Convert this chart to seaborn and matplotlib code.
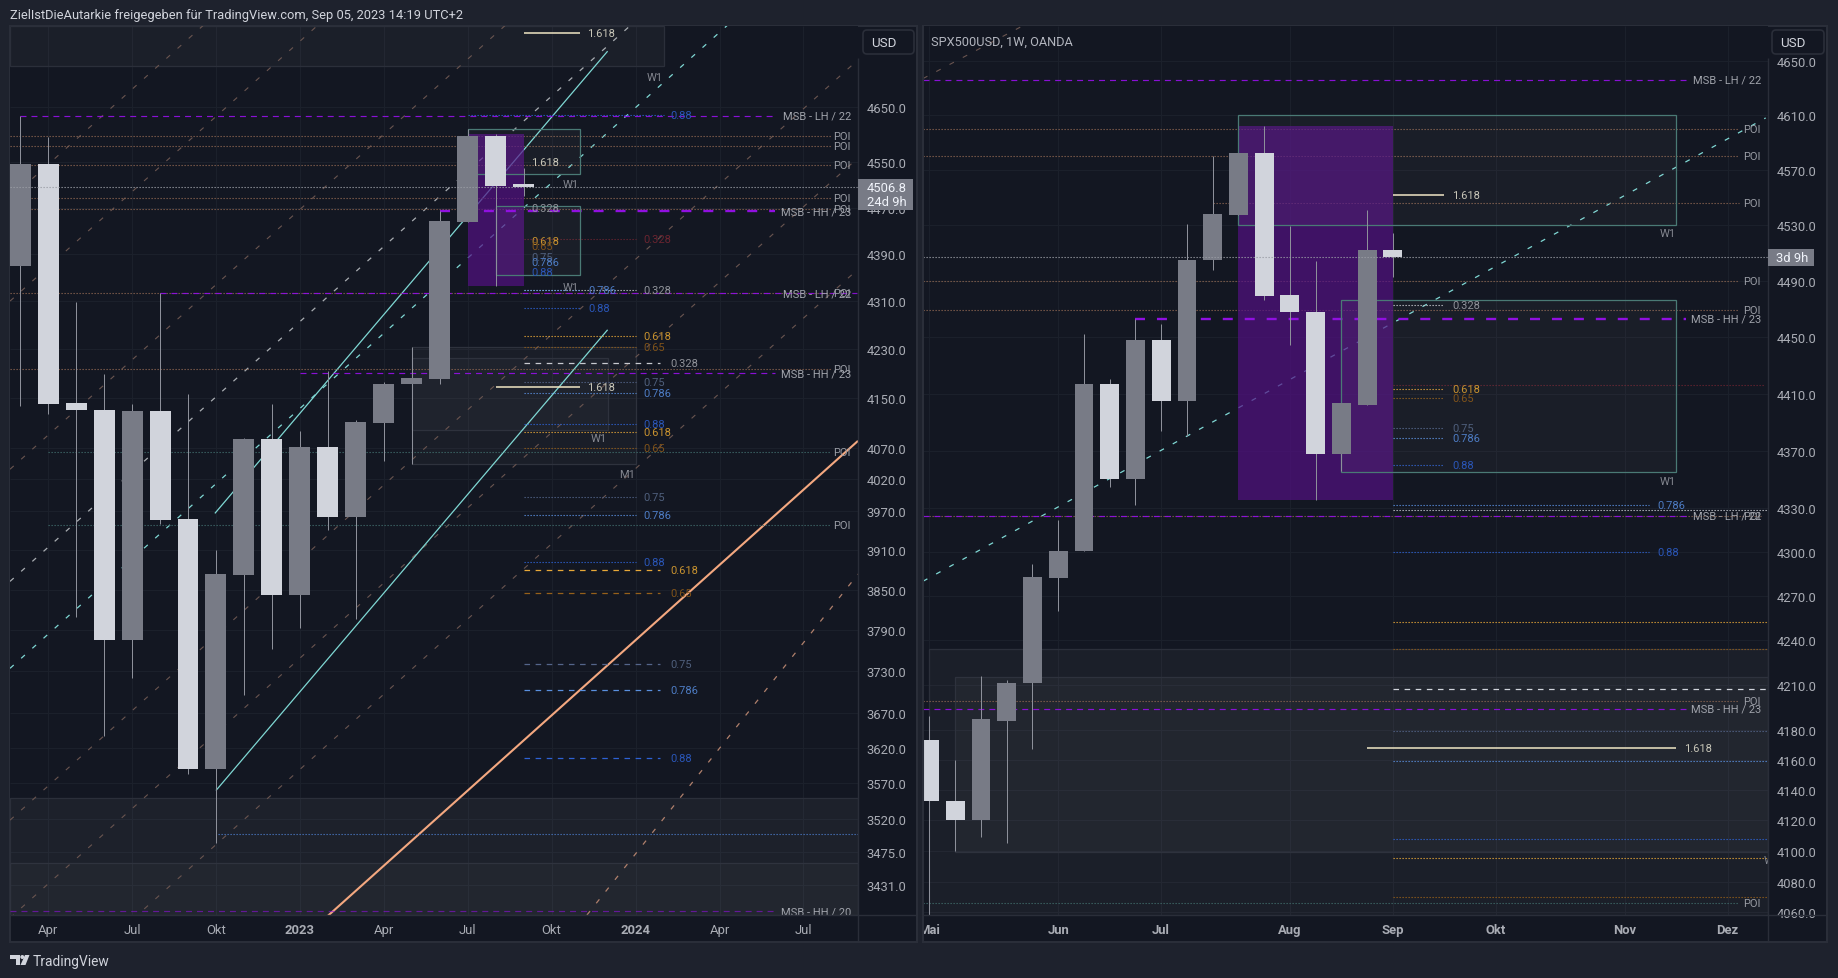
import matplotlib as mpl
mpl.use("Agg")
import matplotlib.pyplot as plt
from matplotlib.patches import Rectangle, FancyBboxPatch, Polygon, Circle
import seaborn as sns

# ------------------------------------------------------------------------------ #
# data
# ------------------------------------------------------------------------------ #

# left pane, monthly candles from mar 2022
l_open = [4370, 4547, 4142, 4130, 3775, 4129, 3958, 3590, 3873, 4084, 3843, 4071, 3961, 4110, 4172, 4181, 4445, 4597, 4512]
l_close = [4547, 4141, 4130, 3775, 4129, 3957, 3590, 3874, 4084, 3843, 4071, 3961, 4111, 4173, 4182, 4447, 4597, 4508, 4506.8]
l_high = [4634, 4596, 4309, 4189, 4140, 4323, 4156, 3911, 4085, 4140, 4096, 4194, 4114, 4176, 4233, 4464, 4610, 4600, 4540]
l_low = [4137, 4124, 3810, 3636, 3720, 3951, 3583, 3488, 3695, 3762, 3793, 3942, 3806, 4049, 4044, 4172, 4445, 4336, 4491]

l_ticks = [4650, 4550, 4470, 4390, 4310, 4230, 4150, 4070, 4020, 3970, 3910, 3850, 3790, 3730, 3670, 3620, 3570, 3520, 3475, 3431]
l_xticks = [1, 4, 7, 10, 13, 16, 19, 22, 25, 28]
l_xlabels = ["Apr", "Jul", "Okt", "2023", "Apr", "Jul", "Okt", "2024", "Apr", "Jul"]

l_poi = [4598, 4579, 4545, 4488, 4468, 4323, 4198]
l_poi_teal = [4064, 3949]

# level, first candle index
l_msb = [4634, 4464, 4323, 4190, 3396]
l_msb_start = [0, 15, 5, 10, -0.36]
l_msb_name = ["MSB - LH / 22", "MSB - HH / 23", "MSB - LH / 22", "MSB - HH / 23", "MSB - HH / 20"]

l_dot_price = [4328, 4251, 4233, 4176, 4157.5, 4107.5, 4095, 4069, 3992, 3964, 3893]
l_dot_name = ["0.328", "0.618", "0.65", "0.75", "0.786", "0.88", "0.618", "0.65", "0.75", "0.786", "0.88"]
l_short_price = [4329, 4298]
l_short_name = ["0.786", "0.88"]
l_dash_price = [4206.5, 3880, 3845, 3740, 3702, 3606]
l_dash_name = ["0.328", "0.618", "0.65", "0.75", "0.786", "0.88"]
l_tag_price = [4550, 4470, 4412, 4404, 4385, 4377, 4359]
l_tag_name = ["1.618", "0.328", "0.618", "0.65", "0.75", "0.786", "0.88"]

# diagonals as (x0, price0, x1, price1)
l_brown = [
    (-0.363, 4486, 29.95, 6037),
    (-0.363, 4310, 29.95, 5800),
    (-0.363, 4036, 29.95, 5431),
    (-0.363, 3519, 29.95, 4736),
    (-0.363, 3387, 29.95, 4558),
    (-0.363, 3243, 29.95, 4364),
]
l_white_diag = (-0.363, 3863, 29.95, 5198)
l_teal_diag = (-0.363, 3734, 29.95, 5025)
l_teal_solid = [(6.96, 3967, 21, 4752), (7, 3560, 21, 4262)]
l_orange_solid = (-0.363, 3033, 29.95, 4081)
l_orange_dash = (20.26, 3391, 29.95, 3874)

# right pane, weekly candles
r_open = [4173, 4133, 4120, 4186, 4211, 4282, 4301, 4417, 4350, 4448, 4405, 4505, 4537, 4582, 4480, 4468, 4368, 4402, 4512]
r_close = [4133, 4120, 4187, 4211, 4283, 4301, 4417, 4350, 4448, 4405, 4505, 4538, 4582, 4479, 4468, 4368, 4403, 4512, 4506.8]
r_high = [4189, 4160, 4216, 4213, 4292, 4322, 4452, 4420, 4463, 4459, 4531, 4580, 4582, 4602, 4529, 4504, 4403, 4541, 4524]
r_low = [4050, 4100, 4109, 4105, 4167, 4260, 4301, 4345, 4332, 4384, 4380, 4498, 4537, 4476, 4444, 4336, 4356, 4402, 4493]

r_ticks = [4650, 4610, 4570, 4530, 4490, 4450, 4410, 4370, 4330, 4300, 4270, 4240, 4210, 4180, 4160, 4140, 4120, 4100, 4080, 4060]
r_xticks = [0, 5, 9, 14, 18, 22, 27, 31]
r_xlabels = ["Mai", "Jun", "Jul", "Aug", "Sep", "Okt", "Nov", "Dez"]

r_poi = [4600, 4580, 4546, 4490, 4469, 4199]
r_poi_start = [-0.25, -0.25, 11, -0.25, -0.25, -0.25]

r_msb = [4636, 4463, 4325, 4194]
r_msb_start = [-0.25, 8, -0.25, -0.25]
r_msb_name = ["MSB - LH / 22", "MSB - HH / 23", "MSB - LH / 22", "MSB - HH / 23"]

r_short_price = [4472.6, 4413, 4406.6, 4386, 4379, 4360]
r_short_name = ["0.328", "0.618", "0.65", "0.75", "0.786", "0.88"]
r_mid_price = [4332, 4300]
r_mid_name = ["0.786", "0.88"]
r_long_price = [4329, 4252, 4234, 4179, 4159, 4108, 4095.6, 4070]
r_long_name = ["0.328", "0.618", "0.65", "0.75", "0.786", "0.88", "0.618", "0.65"]

r_teal_diag = (-0.25, 4280, 32.48, 4608)
r_brown_diag = (-0.25, 4637, 3.61, 4676)

# ------------------------------------------------------------------------------ #
# style
# ------------------------------------------------------------------------------ #

W, H = 1838, 979
c_out = "#1e222d"
c_pane = "#131722"
c_line = "#2a2e39"
c_grid = "#1b202b"
c_up = "#787b86"
c_down = "#d1d4dc"
c_wick = "#8d909a"
c_tick = "#a9acb4"
c_small = "#83868f"
c_purple = "#9010e0"
c_poi = "#8a6450"
c_teal = "#7fd8d4"
c_brown = "#6a5550"
c_box = "#4a7a75"
c_fill = "#521083"

fib_clr = {
    "1.618": "#f0e6c4",
    "0.328": "#c8cad0",
    "0.618": "#e8a838",
    "0.65": "#96601a",
    "0.75": "#54658a",
    "0.786": "#5a90e0",
    "0.88": "#2e62d4",
}
lab_clr = {
    "1.618": "#c8c6b8",
    "0.328": "#8f9299",
    "0.618": "#c8922f",
    "0.65": "#80531a",
    "0.75": "#4f5f7c",
    "0.786": "#4d7cc4",
    "0.88": "#2a56b8",
}

dotted = (0, (0.9, 1.26))
dashed = (0, (4, 4))
diag = (0, (3.6, 7.2))

sns.set_theme(
    style="dark",
    rc={
        "figure.facecolor": c_out,
        "axes.facecolor": c_pane,
        "lines.scale_dashes": False,
        "lines.solid_capstyle": "butt",
        "lines.dash_capstyle": "butt",
    },
)
plt.rcParams["font.family"] = ["Roboto", "DejaVu Sans"]

fig = plt.figure(figsize=(W / 100, H / 100), dpi=100)
# pixel coordinates of the screenshot for all the chrome
px = mpl.transforms.Affine2D().scale(1 / W, -1 / H).translate(0, 1) + fig.transFigure


def rect_px(x0, y0, x1, y1, **kwargs):
    r = Rectangle((x0, y0), x1 - x0, y1 - y0, transform=px, **kwargs)
    fig.add_artist(r)
    return r


def text_px(x, y, s, **kwargs):
    kwargs.setdefault("color", c_tick)
    kwargs.setdefault("fontsize", 9.4)
    kwargs.setdefault("va", "center")
    fig.text(x, y, s, transform=px, **kwargs)


def make_axes(x0, y0, x1, y1):
    ax = fig.add_axes([x0 / W, 1 - y1 / H, (x1 - x0) / W, (y1 - y0) / H])
    for s in ax.spines.values():
        s.set_visible(False)
    return ax


def seg(ax, x0, p0, x1, p1, color, ls="-", lw=0.8, alpha=1.0, z=2.5):
    sns.lineplot(
        x=[x0, x1], y=[p0, p1], ax=ax, color=color, linestyle=ls, linewidth=lw,
        alpha=alpha, zorder=z, estimator=None, legend=False,
    )


def lab(ax, x, p, s, color=c_small, ha="left", fs=8.0):
    ax.text(x, p, s, color=color, fontsize=fs, ha=ha, va="center", zorder=6, clip_on=True)


def box(ax, x0, x1, p0, p1, edge, fill, alpha, z=2.0, lw=0.9):
    ax.add_patch(Rectangle((x0, p0), x1 - x0, p1 - p0, facecolor=fill, alpha=alpha, edgecolor="none", zorder=z))
    if edge is not None:
        ax.add_patch(Rectangle((x0, p0), x1 - x0, p1 - p0, facecolor="none", edgecolor=edge, lw=lw, zorder=z + 0.01))


def candles(ax, o, c, hi, lo, width):
    x = list(range(len(o)))
    clr = [c_up if b > a else c_down for a, b in zip(o, c)]
    ax.vlines(x, lo, hi, colors=c_wick, linewidth=0.72, zorder=3)
    ax.bar(
        x, [abs(b - a) for a, b in zip(o, c)], bottom=[min(a, b) for a, b in zip(o, c)],
        width=width, color=clr, linewidth=0, zorder=3.1,
    )


def setup_axis(ax, ticks, xticks, xlabels, xlim, ylim):
    ax.set_yscale("log")
    ax.set_xlim(*xlim)
    ax.set_ylim(*ylim)
    ax.yaxis.tick_right()
    ax.set_yticks(ticks, labels=[f"{t:.1f}" for t in ticks])
    ax.minorticks_off()
    ax.set_xticks(xticks, labels=xlabels)
    ax.tick_params(axis="y", length=0, pad=6.2, labelsize=9.4, labelcolor=c_tick)
    ax.tick_params(axis="x", length=0, pad=5.5, labelsize=9.4, labelcolor=c_tick)
    ax.grid(True, color=c_grid, linewidth=0.8)
    ax.set_axisbelow(True)


# ------------------------------------------------------------------------------ #
# pane backgrounds
# ------------------------------------------------------------------------------ #

rect_px(10, 27, 917, 943, facecolor=c_pane, edgecolor=c_line, lw=1.5, zorder=-2)
rect_px(923, 27, 1827, 943, facecolor=c_pane, edgecolor=c_line, lw=1.5, zorder=-2)

# ------------------------------------------------------------------------------ #
# left pane
# ------------------------------------------------------------------------------ #

ax = make_axes(10, 27, 858, 916)
setup_axis(ax, l_ticks, l_xticks, l_xlabels, (-0.363, 29.95), (3391, 4799))
for t, s in zip(ax.get_xticklabels(), l_xlabels):
    if s.startswith("20"):
        t.set_fontweight("bold")

# zones
box(ax, -0.363, 23, 4724, 4799, "#2b2f3a", "#ffffff", 0.035)
box(ax, -0.363, 29.95, 3391, 3549, "#2b2f3a", "#ffffff", 0.045)
box(ax, -0.363, 29.95, 3391, 3460, "#2f333e", "#ffffff", 0.025)
box(ax, 16, 18, 4335, 4600, None, c_fill, 0.7, z=2.7)
box(ax, 16, 20, 4529, 4609, c_box, "#ffffff", 0.03, z=2.8)
box(ax, 17, 20, 4354, 4474, c_box, "#ffffff", 0.03, z=2.8)
box(ax, 14, 22, 4044, 4233, "#2e323d", "#ffffff", 0.03)
box(ax, 14, 21, 4098, 4215, "#2e323d", "#ffffff", 0.025)

# trend lines
for b in l_brown:
    seg(ax, *b, color=c_brown, ls=diag, lw=0.8)
seg(ax, *l_white_diag, color="#a9adb2", ls=diag, lw=0.9)
seg(ax, *l_teal_diag, color=c_teal, ls=diag, lw=0.9)
for b in l_teal_solid:
    seg(ax, *b, color=c_teal, lw=0.9)
seg(ax, *l_orange_solid, color="#f4a880", lw=1.5)
seg(ax, *l_orange_dash, color="#b0806c", ls=diag, lw=0.9)

candles(ax, l_open, l_close, l_high, l_low, 0.75)

# horizontal levels
seg(ax, -0.363, l_close[-1], 29.95, l_close[-1], "#9a9da5", ls=dotted, z=3.5)
for p in l_poi:
    seg(ax, -0.363, p, 28.97, p, c_poi, ls=dotted)
    lab(ax, 29.7, p, "POI", ha="right", color="#9a9da5")
seg(ax, 1, l_poi_teal[0], 28.97, l_poi_teal[0], "#3f6a6a", ls=dotted)
seg(ax, 1, l_poi_teal[1], 28.97, l_poi_teal[1], "#3f6a6a", ls=dotted)
lab(ax, 29.7, l_poi_teal[0], "POI", ha="right", color="#9a9da5")
lab(ax, 29.7, l_poi_teal[1], "POI", ha="right", color="#9a9da5")

for i, (p, st, s) in enumerate(zip(l_msb, l_msb_start, l_msb_name)):
    if i == 1:
        seg(ax, st, p, 27, p, c_purple, ls=(0, (7.2, 8.6)), lw=1.7, z=2.8)
    else:
        seg(ax, st, p, 27, p, c_purple, ls=(0, (4.3, 3.6)), lw=0.85, alpha=0.95 if i != 4 else 0.6, z=2.8)
    lab(ax, 29.7, p, s, ha="right", color="#a0a3ab")
seg(ax, 27, l_msb[2], 29.9, l_msb[2], c_purple, ls=(0, (4.3, 3.6)), lw=0.85, alpha=0.9, z=2.8)

seg(ax, 16, 4635.5, 23, 4635.5, fib_clr["0.88"], ls=dotted)
lab(ax, 23.26, 4635.5, "0.88", color=lab_clr["0.88"])
seg(ax, 18, 4415, 22, 4415, "#6a2430", ls=dotted)
lab(ax, 22.27, 4415, "0.328", color="#6a2430")

for p, s in zip(l_dot_price, l_dot_name):
    seg(ax, 18, p, 22, p, fib_clr[s], ls=dotted)
    lab(ax, 22.27, p, s, color=lab_clr[s])
for p, s in zip(l_short_price, l_short_name):
    seg(ax, 18, p, 20.05, p, fib_clr[s], ls=dotted)
    lab(ax, 20.3, p, s, color=lab_clr[s])
for p, s in zip(l_dash_price, l_dash_name):
    seg(ax, 18, p, 22.88, p, fib_clr[s], ls=dashed, lw=0.9)
    lab(ax, 23.26, p, s, color=lab_clr[s])
seg(ax, 18, 4785, 20, 4785, fib_clr["1.618"], lw=1.1)
lab(ax, 20.26, 4785, "1.618", color=lab_clr["1.618"])
seg(ax, 17, 4167, 20, 4167, fib_clr["1.618"], lw=1.1)
lab(ax, 20.26, 4167, "1.618", color=lab_clr["1.618"])
for p, s in zip(l_tag_price, l_tag_name):
    lab(ax, 18.27, p, s, color=lab_clr[s])

seg(ax, 7.08, 3500, 29.95, 3500, "#4a78c4", ls=dotted)

lab(ax, 22.67, 4704, "W1", ha="center")
lab(ax, 19.67, 4511, "W1", ha="center")
lab(ax, 19.67, 4333, "W1", ha="center")
lab(ax, 21.68, 4029, "M1", ha="center")
lab(ax, 20.68, 4085, "W1", ha="center")

# ------------------------------------------------------------------------------ #
# right pane
# ------------------------------------------------------------------------------ #

ax2 = make_axes(923, 27, 1768, 916)
setup_axis(ax2, r_ticks, r_xticks, r_xlabels, (-0.25, 32.57), (4058.3, 4676))
for t in ax2.get_xticklabels():
    t.set_fontweight("bold")

box(ax2, 0, 32.57, 4050, 4234, "#2b2f3a", "#ffffff", 0.035)
box(ax2, 1, 32.57, 4099.5, 4215.5, "#2e323d", "#ffffff", 0.03)
box(ax2, 12, 18, 4336, 4602, None, c_fill, 0.7, z=2.7)
box(ax2, 12, 29, 4530, 4610, c_box, "#ffffff", 0.03, z=2.8)
box(ax2, 16, 29, 4355.5, 4476, c_box, "#ffffff", 0.03, z=2.8)

seg(ax2, *r_teal_diag, color=c_teal, ls=diag, lw=0.9)
seg(ax2, *r_brown_diag, color=c_brown, ls=diag, lw=0.8)

candles(ax2, r_open, r_close, r_high, r_low, 0.73)

seg(ax2, -0.25, r_close[-1], 32.57, r_close[-1], "#9a9da5", ls=dotted, z=3.5)
for p, st in zip(r_poi, r_poi_start):
    seg(ax2, st, p, 31.45, p, c_poi, ls=dotted)
    lab(ax2, 32.3, p, "POI", ha="right", color="#9a9da5")
seg(ax2, -0.25, 4066, 31.45, 4066, "#3f6a6a", ls=dotted)
lab(ax2, 32.3, 4066, "POI", ha="right", color="#9a9da5")
seg(ax2, -0.25, 4325, 32.3, 4325, c_poi, ls=dotted)
lab(ax2, 32.3, 4325, "POI", ha="right", color="#9a9da5")
seg(ax2, 18, 4416, 32.4, 4416, "#6a2430", ls=dotted)

for i, (p, st, s) in enumerate(zip(r_msb, r_msb_start, r_msb_name)):
    if i == 1:
        seg(ax2, st, p, 29.4, p, c_purple, ls=(0, (7.2, 8.6)), lw=1.7, z=2.8)
    else:
        seg(ax2, st, p, 29.4, p, c_purple, ls=(0, (4.3, 3.6)), lw=0.85, alpha=0.95, z=2.8)
    lab(ax2, 32.3, p, s, ha="right", color="#a0a3ab")

seg(ax2, 18, 4552, 20, 4552, fib_clr["1.618"], lw=1.1)
lab(ax2, 20.3, 4552, "1.618", color=lab_clr["1.618"])
for p, s in zip(r_short_price, r_short_name):
    seg(ax2, 18, p, 20, p, fib_clr[s], ls=dotted)
    lab(ax2, 20.3, p, s, color=lab_clr[s])
for p, s in zip(r_mid_price, r_mid_name):
    seg(ax2, 18, p, 27.93, p, fib_clr[s], ls=dotted)
    lab(ax2, 28.27, p, s, color=lab_clr[s])
for p, s in zip(r_long_price, r_long_name):
    seg(ax2, 18, p, 32.57, p, fib_clr[s], ls=dotted)
seg(ax2, 18, 4207, 32.57, 4207, "#d1d4dc", ls=dashed, lw=0.9)
seg(ax2, 17, 4168, 29, 4168, fib_clr["1.618"], lw=1.1)
lab(ax2, 29.3, 4168, "1.618", color=lab_clr["1.618"])

lab(ax2, 28.66, 4524, "W1", ha="center")
lab(ax2, 28.66, 4349, "W1", ha="center")
lab(ax2, 32.4, 4094, "W1")

# ------------------------------------------------------------------------------ #
# chrome on top of the axes
# ------------------------------------------------------------------------------ #

rect_px(917.8, 27, 923, 943, facecolor=c_out, edgecolor="none", zorder=5)
for x0, x1 in [(10, 917), (923, 1827)]:
    fig.add_artist(plt.Line2D([x0, x1], [916, 916], transform=px, color=c_line, lw=1.0, zorder=6))
    fig.add_artist(plt.Line2D([x0, x1], [943, 943], transform=px, color=c_line, lw=1.5, zorder=6))
fig.add_artist(plt.Line2D([923, 923], [27, 943], transform=px, color=c_line, lw=1.5, zorder=6))

for xs, xe, sep in [(859, 916, 858), (1769, 1826, 1768)]:
    rect_px(xs, 28, xe, 59, facecolor=c_pane, edgecolor="none", zorder=6)
    fig.add_artist(plt.Line2D([sep, sep], [59, 943], transform=px, color=c_line, lw=1.0, zorder=6))

fig.add_artist(FancyBboxPatch((863, 31), 51, 24, boxstyle="round,pad=0,rounding_size=4", transform=px,
                              facecolor=c_pane, edgecolor=c_line, lw=1.2, zorder=7))
fig.add_artist(FancyBboxPatch((1772, 31), 52, 24, boxstyle="round,pad=0,rounding_size=4", transform=px,
                              facecolor=c_pane, edgecolor=c_line, lw=1.2, zorder=7))
text_px(884, 43.5, "USD", ha="center", color="#d1d4dc", zorder=8, fontsize=9.6)
text_px(1793, 43.5, "USD", ha="center", color="#d1d4dc", zorder=8, fontsize=9.6)

rect_px(858, 180, 913, 210.7, facecolor=c_up, edgecolor="none", zorder=7)
text_px(867, 188.7, "4506.8", color="#f0f3fa", zorder=8)
text_px(867, 202.7, "24d 9h", color="#f0f3fa", zorder=8)
rect_px(1768, 250, 1814, 267, facecolor=c_up, edgecolor="none", zorder=7)
text_px(1776.5, 258.5, "3d 9h", color="#f0f3fa", zorder=8)

text_px(10, 15.7, "ZielIstDieAutarkie freigegeben für TradingView.com, Sep 05, 2023 14:19 UTC+2",
        color="#d1d4dc", fontsize=9.25, zorder=8)
text_px(931, 42.7, "SPX500USD, 1W, OANDA", color="#b2b5be", fontsize=9.2, zorder=8)

# logo
logo_clr = "#d1d4dc"
rect_px(10, 956, 19.5, 960, facecolor=logo_clr, edgecolor="none", zorder=8)
rect_px(15.5, 956, 19.5, 966, facecolor=logo_clr, edgecolor="none", zorder=8)
fig.add_artist(Circle((22.3, 958), 2, transform=px, facecolor=logo_clr, edgecolor="none", zorder=8))
fig.add_artist(Polygon([(25, 956), (29.5, 956), (25.5, 966), (20.5, 966)], transform=px, facecolor=logo_clr, edgecolor="none", zorder=8))
text_px(33, 962.3, "TradingView", color="#d1d4dc", fontsize=9.9, zorder=8)

fig.savefig("out.png", dpi=100, facecolor=c_out)
